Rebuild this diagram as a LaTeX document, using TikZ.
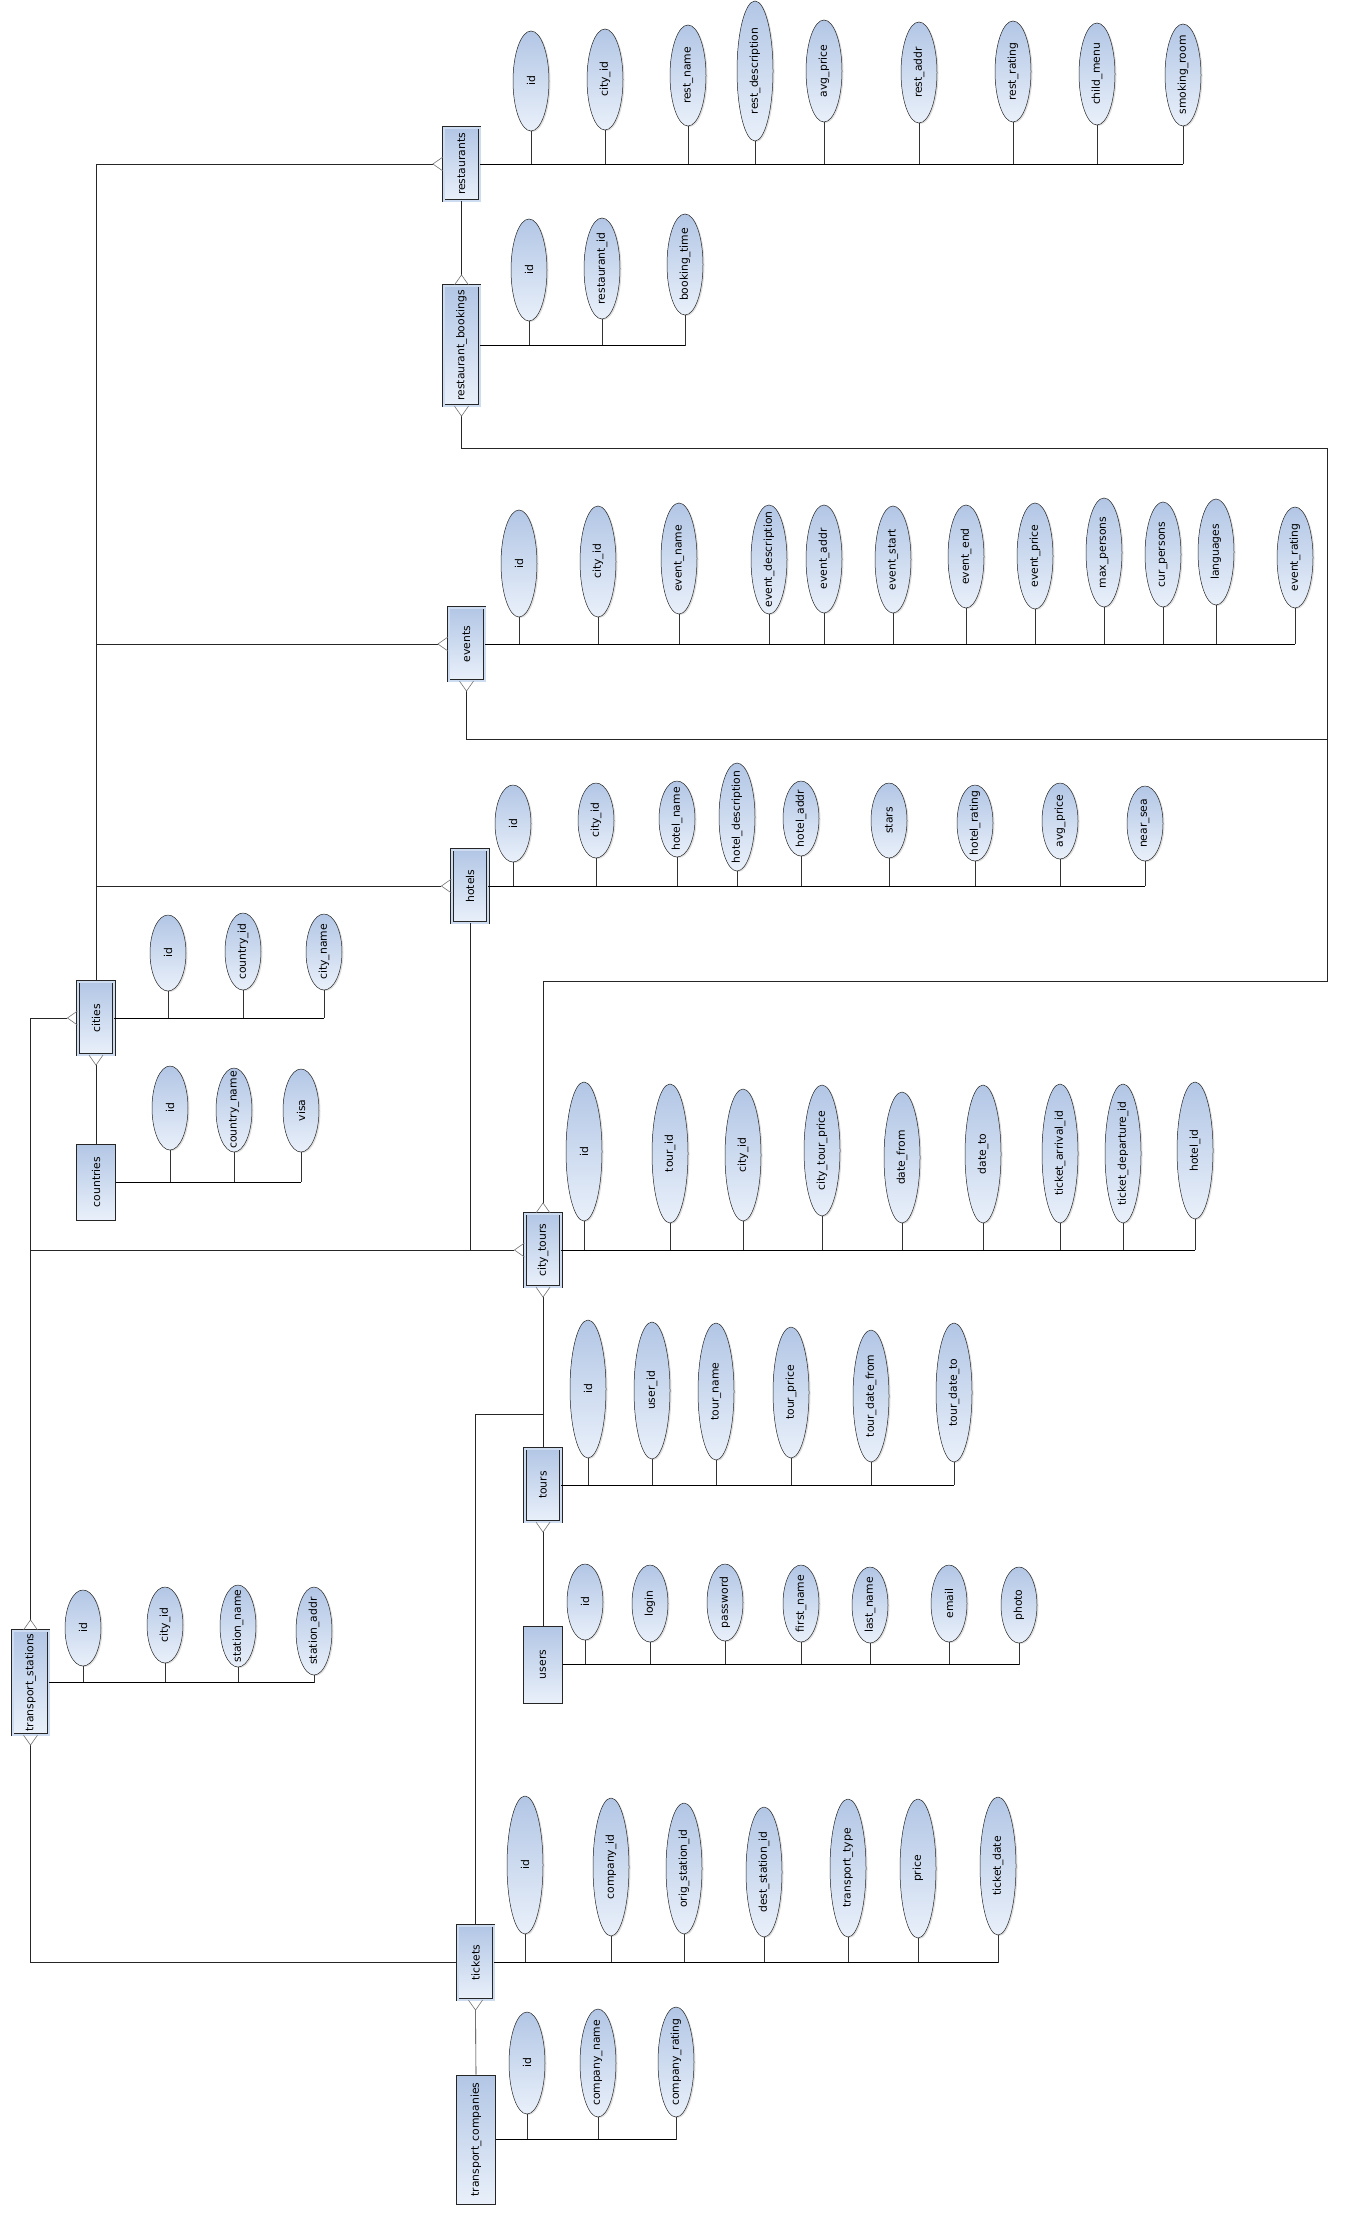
\documentclass[tikz,border=0pt]{standalone}
\usepackage{fontspec}
\setmainfont{DejaVu Sans}
\usepackage{graphicx}
\usetikzlibrary{positioning,shapes.geometric,arrows.meta,shadows}

\definecolor{erdark}{RGB}{178,198,229}
\definecolor{erlight}{RGB}{233,240,250}
\definecolor{ermid}{RGB}{205,220,240}

\tikzset{
  crow/.tip={Straight Barb[reversed,length=10pt,width=14pt,line width=0.6pt,color=black!55]},
  attrib/.style={ellipse, draw=black!85, line width=0.5pt, top color=erdark, bottom color=erlight,
    minimum width=36, inner sep=0pt, font=\fontsize{10.8}{12}\selectfont,
    drop shadow={shadow xshift=1.5pt, shadow yshift=-1pt, opacity=0.25}},
  entity/.style={rectangle, draw=black!85, line width=0.6pt, double=ermid, double distance=2pt,
    top color=erdark, bottom color=erlight, minimum width=36, inner sep=0pt,
    font=\fontsize{10.8}{12}\selectfont,
    drop shadow={shadow xshift=1.5pt, shadow yshift=-1pt, opacity=0.25}},
  plainent/.style={rectangle, draw=black!85, line width=0.6pt,
    top color=erdark, bottom color=erlight, minimum width=39, inner sep=0pt,
    font=\fontsize{10.8}{12}\selectfont},
  link/.style={draw=black!85, line width=0.6pt},
  bus/.style={draw=black, line width=0.9pt},
  stub/.style={draw=black!80, line width=0.5pt}
}

\newcommand{\vtext}[1]{\rotatebox{90}{\makebox[0pt]{#1}}}
% attribute: entity, name, x, top, bottom, label
\newcommand{\attr}[6]{%
  \node[attrib, minimum height=#5-#4] (#2) at (#3,{(#4+#5)/2}) {\vtext{#6}};
  \draw[stub] (#2.south) -- (#2.south |- #1.east);}

\begin{document}
\begin{tikzpicture}[x=1pt,y=-1pt]
\useasboundingbox (0,0) rectangle (1344,2216);

% entities
\node[entity, minimum height=73] (rest) at (461.5,164) {\vtext{restaurants}};
\node[entity, minimum height=120] (rbook) at (461.5,345.5) {\vtext{restaurant\_bookings}};
\node[entity, minimum height=73] (events) at (466.5,644) {\vtext{events}};
\node[entity, minimum height=73] (hotels) at (470,886) {\vtext{hotels}};
\node[entity, minimum height=73] (cities) at (96,1018) {\vtext{cities}};
\node[plainent, minimum height=76] (countries) at (96,1182) {\vtext{countries}};
\node[entity, minimum height=73] (ctours) at (543,1250) {\vtext{city\_tours}};
\node[entity, minimum height=73] (tours) at (543,1485) {\vtext{tours}};
\node[plainent, minimum height=77] (users) at (543,1664.5) {\vtext{users}};
\node[entity, minimum height=104] (tstat) at (30.5,1682.5) {\vtext{transport\_stations}};
\node[entity, minimum height=74] (tickets) at (475.5,1962.5) {\vtext{tickets}};
\node[plainent, minimum height=129] (tcomp) at (476,2139.5) {\vtext{transport\_companies}};

% restaurants
\attr{rest}{rs1}{531}{31}{131}{id}
\attr{rest}{rs2}{605}{29}{130}{city\_id}
\attr{rest}{rs3}{688}{25}{126}{rest\_name}
\attr{rest}{rs4}{755}{1}{141}{rest\_description}
\attr{rest}{rs5}{824}{20}{122}{avg\_price}
\attr{rest}{rs6}{919}{22}{123}{rest\_addr}
\attr{rest}{rs7}{1013}{21}{122}{rest\_rating}
\attr{rest}{rs8}{1097}{23}{125}{child\_menu}
\attr{rest}{rs9}{1183}{24}{126}{smoking\_room}
\draw[bus] (rest.east) -- (rs9.south |- rest.east);

% restaurant_bookings
\attr{rbook}{rb1}{529}{219}{321}{id}
\attr{rbook}{rb2}{602}{218}{319}{restaurant\_id}
\attr{rbook}{rb3}{685}{214}{315}{booking\_time}
\draw[bus] (rbook.east) -- (rb3.south |- rbook.east);

% events
\attr{events}{ev1}{519}{510}{617}{id}
\attr{events}{ev2}{598}{506}{617}{city\_id}
\attr{events}{ev3}{679}{503}{614}{event\_name}
\attr{events}{ev4}{769}{505}{614}{event\_description}
\attr{events}{ev5}{824}{505}{613}{event\_addr}
\attr{events}{ev6}{893}{506}{613}{event\_start}
\attr{events}{ev7}{966}{505}{608}{event\_end}
\attr{events}{ev8}{1035}{503}{609}{event\_price}
\attr{events}{ev9}{1104}{498}{607}{max\_persons}
\attr{events}{ev10}{1163}{502}{607}{cur\_persons}
\attr{events}{ev11}{1216}{499}{605}{languages}
\attr{events}{ev12}{1295}{507}{608}{event\_rating}
\draw[bus] (events.east) -- (ev12.south |- events.east);

% hotels
\attr{hotels}{ht1}{513}{785}{862}{id}
\attr{hotels}{ht2}{596}{783}{858}{city\_id}
\attr{hotels}{ht3}{677}{781}{857}{hotel\_name}
\attr{hotels}{ht4}{737}{763}{871}{hotel\_description}
\attr{hotels}{ht5}{801}{781}{856}{hotel\_addr}
\attr{hotels}{ht6}{889}{783}{858}{stars}
\attr{hotels}{ht7}{975}{785}{861}{hotel\_rating}
\attr{hotels}{ht8}{1060}{783}{859}{avg\_price}
\attr{hotels}{ht9}{1145}{786}{861}{near\_sea}
\draw[bus] (hotels.east) -- (ht9.south |- hotels.east);

% cities and countries
\attr{cities}{ci1}{168}{915}{991}{id}
\attr{cities}{ci2}{243}{913}{990}{country\_id}
\attr{cities}{ci3}{324}{914}{990}{city\_name}
\draw[bus] (cities.east) -- (ci3.south |- cities.east);
\attr{countries}{co1}{170}{1066}{1150}{id}
\attr{countries}{co2}{234}{1068}{1152}{country\_name}
\attr{countries}{co3}{301}{1069}{1152}{visa}
\draw[bus] (countries.east) -- (co3.south |- countries.east);

% city_tours
\attr{ctours}{ct1}{584}{1082}{1221}{id}
\attr{ctours}{ct2}{670}{1084}{1223}{tour\_id}
\attr{ctours}{ct3}{743}{1089}{1221}{city\_id}
\attr{ctours}{ct4}{822}{1085}{1216}{city\_tour\_price}
\attr{ctours}{ct5}{902}{1092}{1223}{date\_from}
\attr{ctours}{ct6}{983}{1085}{1223}{date\_to}
\attr{ctours}{ct7}{1060}{1084}{1223}{ticket\_arrival\_id}
\attr{ctours}{ct8}{1123}{1084}{1223}{ticket\_departure\_id}
\attr{ctours}{ct9}{1195}{1082}{1219}{hotel\_id}
\draw[bus] (ctours.east) -- (ct9.south |- ctours.east);

% tours
\attr{tours}{to1}{588}{1320}{1458}{id}
\attr{tours}{to2}{652}{1322}{1459}{user\_id}
\attr{tours}{to3}{716}{1323}{1460}{tour\_name}
\attr{tours}{to4}{791}{1327}{1458}{tour\_price}
\attr{tours}{to5}{871}{1330}{1462}{tour\_date\_from}
\attr{tours}{to6}{954}{1323}{1462}{tour\_date\_to}
\draw[bus] (tours.east) -- (to6.south |- tours.east);

% users
\attr{users}{us1}{585}{1564}{1640}{id}
\attr{users}{us2}{650}{1565}{1642}{login}
\attr{users}{us3}{725}{1564}{1641}{password}
\attr{users}{us4}{801}{1565}{1642}{first\_name}
\attr{users}{us5}{870}{1567}{1643}{last\_name}
\attr{users}{us6}{949}{1565}{1642}{email}
\attr{users}{us7}{1019}{1567}{1643}{photo}
\draw[bus] (users.east) -- (us7.south |- users.east);

% transport_stations
\attr{tstat}{ts1}{83}{1590}{1666}{id}
\attr{tstat}{ts2}{165}{1587}{1663}{city\_id}
\attr{tstat}{ts3}{238}{1585}{1667}{station\_name}
\attr{tstat}{ts4}{314}{1587}{1675}{station\_addr}
\draw[bus] (tstat.east) -- (ts4.south |- tstat.east);

% tickets
\attr{tickets}{tk1}{525}{1796}{1934}{id}
\attr{tickets}{tk2}{611}{1798}{1936}{company\_id}
\attr{tickets}{tk3}{684}{1803}{1934}{orig\_station\_id}
\attr{tickets}{tk4}{764}{1807}{1937}{dest\_station\_id}
\attr{tickets}{tk5}{848}{1799}{1937}{transport\_type}
\attr{tickets}{tk6}{918}{1799}{1938}{price}
\attr{tickets}{tk7}{998}{1797}{1935}{ticket\_date}
\draw[bus] (tickets.east) -- (tk7.south |- tickets.east);

% transport_companies
\attr{tcomp}{tc1}{527}{2012}{2114}{id}
\attr{tcomp}{tc2}{598}{2009}{2117}{company\_name}
\attr{tcomp}{tc3}{676}{2007}{2117}{company\_rating}
\draw[bus] (tcomp.east) -- (tc3.south |- tcomp.east);

% relationships
\coordinate (ne) at (1327,448);
\coordinate (se) at (1327,981);
\coordinate (evj) at (1327,739);
\coordinate (tkj) at (543,1414);
\draw[link,-{crow}] (cities.north) -- (cities.north |- rest.west) -- (rest.west);
\draw[link,-{crow}] (cities.north |- events.west) -- (events.west);
\draw[link,-{crow}] (cities.north |- hotels.west) -- (hotels.west);
\draw[link,-{crow}] (rest.south) -- (rbook.north);
\draw[link,{crow}-{crow}] (rbook.south) -- (rbook.south |- ne) -- (ne) -- (se) -- (se -| ctours.north) -- (ctours.north);
\draw[link,{crow}-] (events.south) -- (events.south |- evj) -- (evj);
\draw[link,{crow}-{crow}] (cities.west) -- (cities.west -| tstat.north) -- (tstat.north);
\draw[link,-{crow}] (ctours.west -| tstat.north) -- (ctours.west);
\draw[link] (hotels.south) -- (hotels.south |- ctours.west);
\draw[link,{crow}-] (cities.south) -- (countries.north);
\draw[link,{crow}-] (ctours.south) -- (tours.north);
\draw[link] (tkj) -- (tkj -| tickets.north) -- (tickets.north);
\draw[link,{crow}-] (tours.south) -- (users.north);
\draw[link,{crow}-] (tstat.south) -- (tstat.south |- tickets.west) -- (tickets.west);
\draw[link,{crow}-] (tickets.south) -- (tcomp.north);
\end{tikzpicture}
\end{document}
